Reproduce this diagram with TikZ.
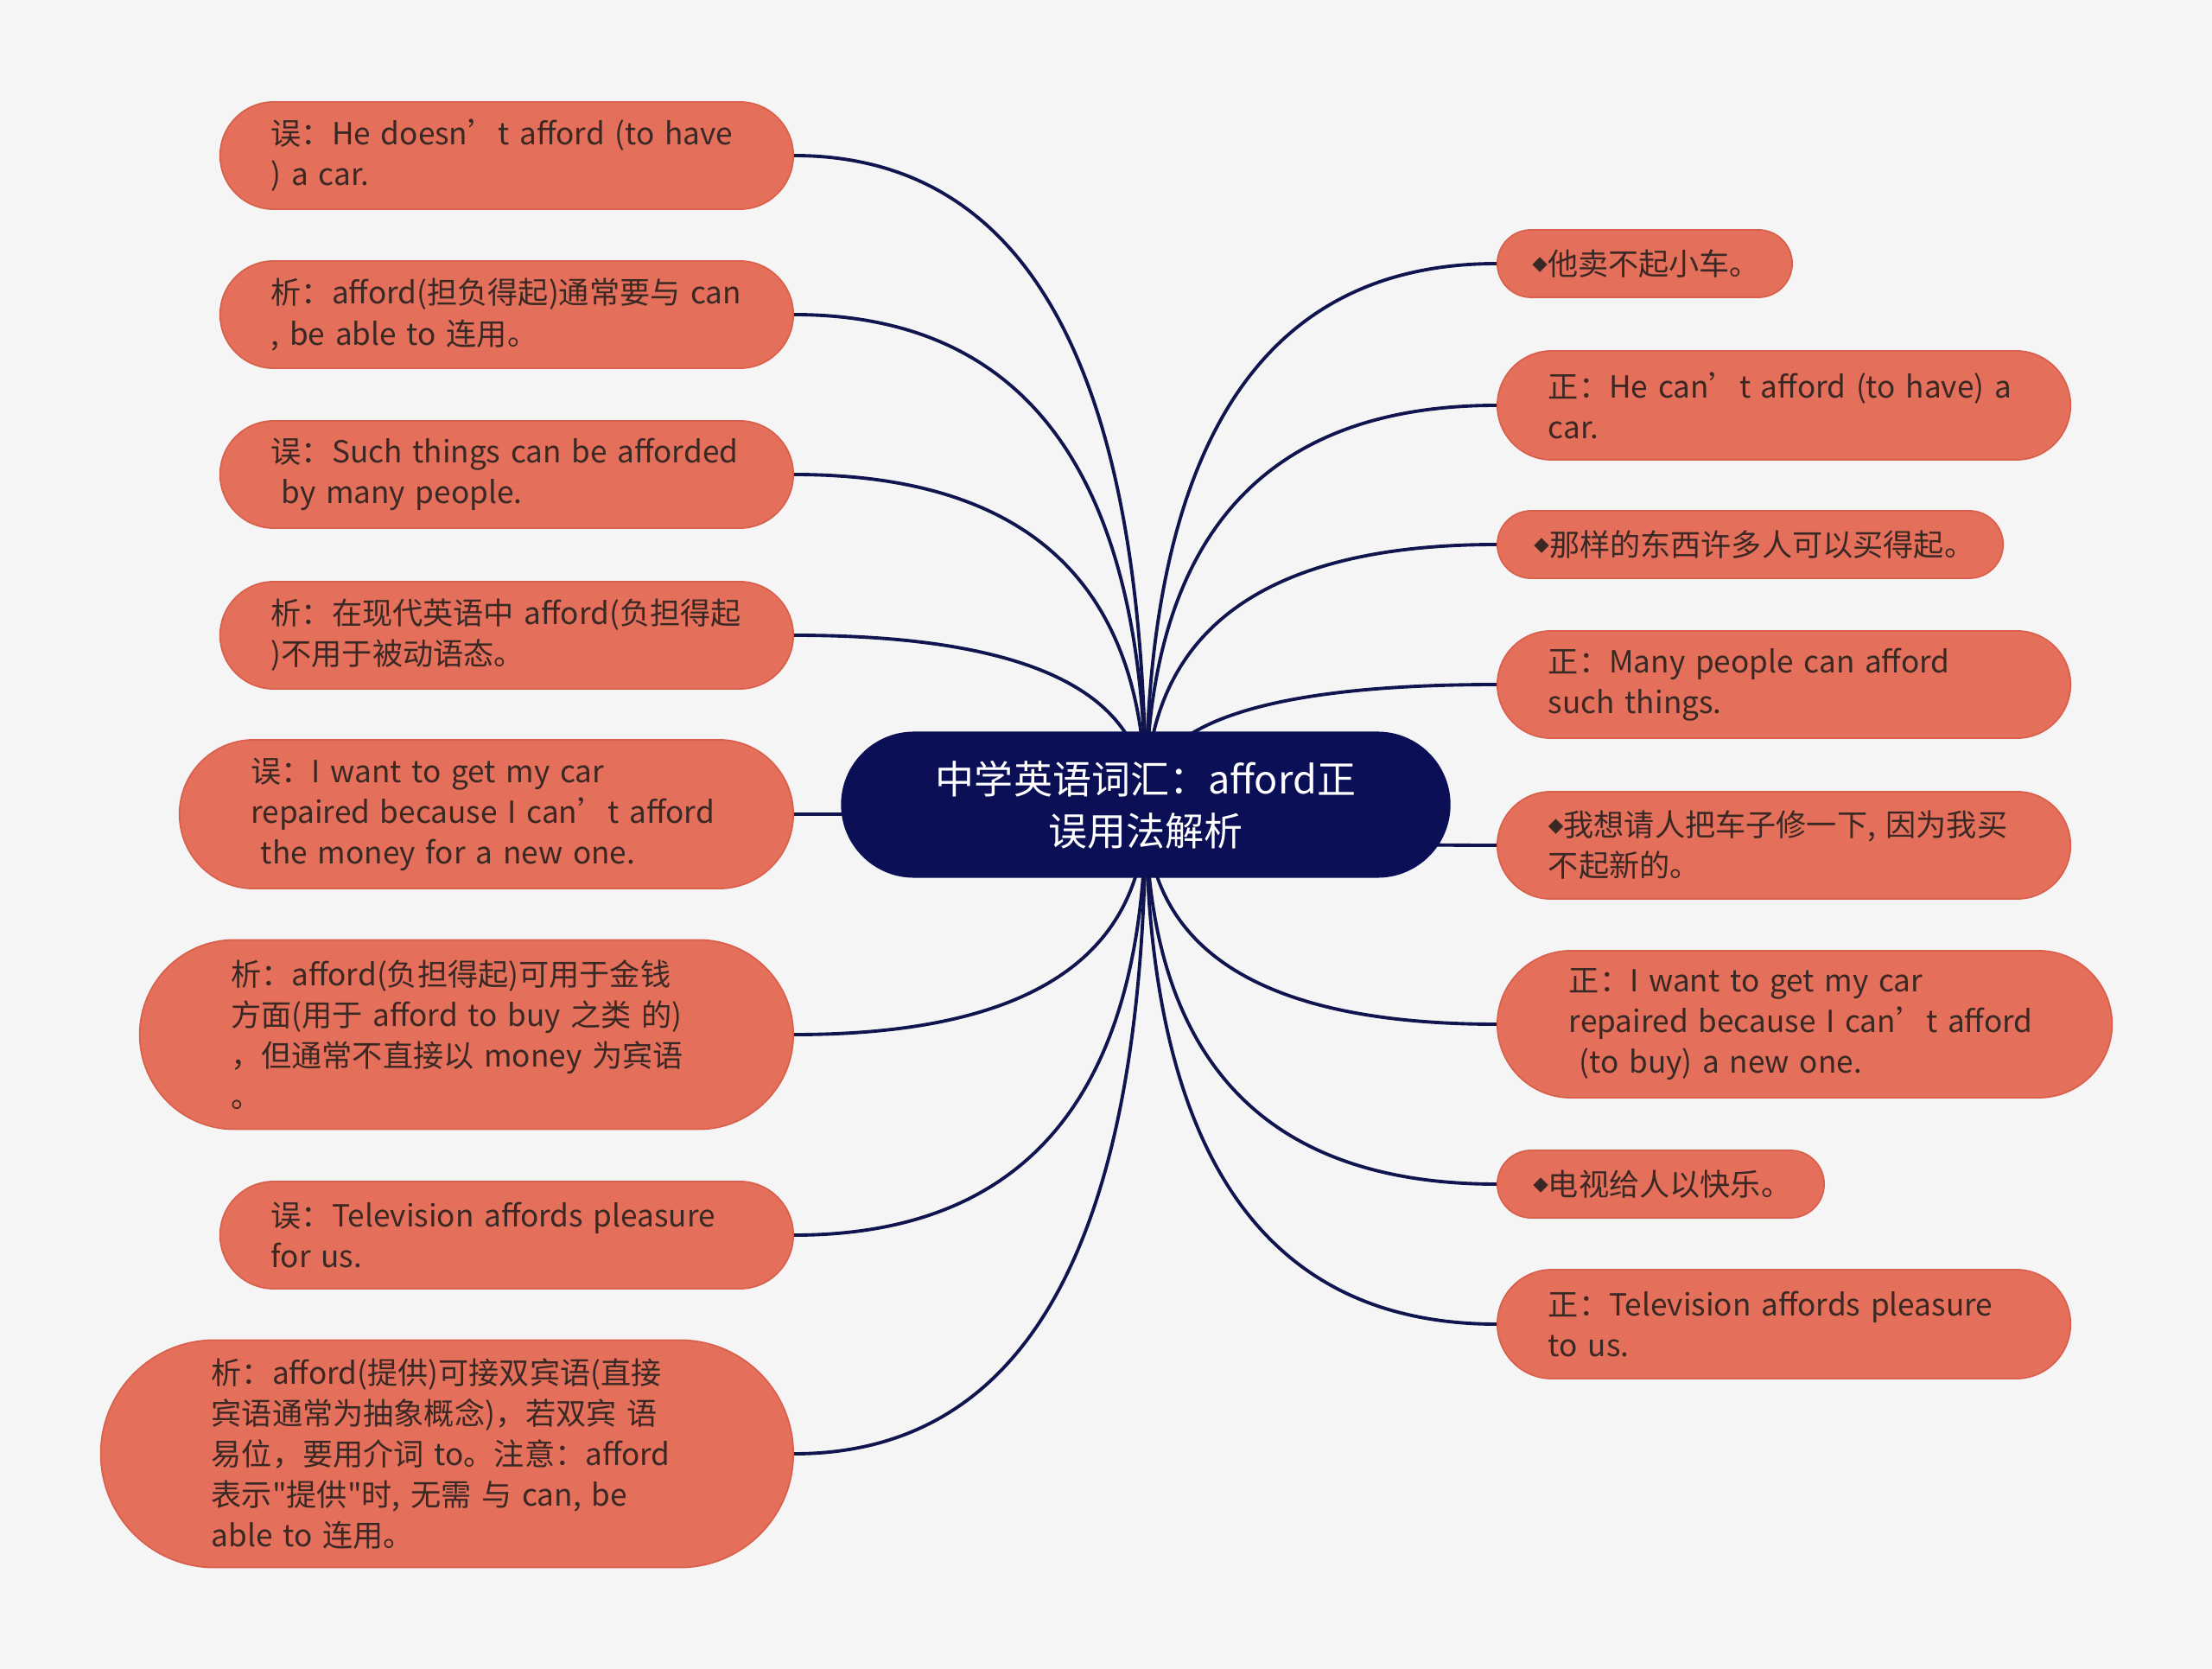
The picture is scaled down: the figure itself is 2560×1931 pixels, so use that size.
\documentclass[tikz,border=0pt]{standalone}
\usepackage{fontspec}
\newfontfamily\cjkfont{Noto Sans CJK SC}
\newfontfamily\symfont{DejaVu Sans}
\usetikzlibrary{calc,backgrounds}

\definecolor{pagebg}{HTML}{F5F5F5}
\definecolor{topicfill}{HTML}{E46F5A}
\definecolor{topicedge}{HTML}{D8604C}
\definecolor{topictext}{HTML}{3A2824}
\definecolor{rootnavy}{HTML}{0B0F55}
\definecolor{linknavy}{HTML}{10154F}

\newcommand{\bul}{\raisebox{1.6pt}{\symfont\fontsize{6.5}{6.5}\selectfont ◆}}

\begin{document}
\begin{tikzpicture}[
      x=0.01cm,
      y=-0.01cm,
      topic/.style={rectangle, draw=topicedge, fill=topicfill, line width=0.5pt,
        text=topictext, align=left, inner ysep=0pt,
        font=\cjkfont\fontsize{10}{13.4}\selectfont},
      pill/.style n args={3}{text width=#1, inner xsep=#2, minimum height=#3,
        rounded corners=#3/2},
      root/.style={rectangle, fill=rootnavy, text=white, align=center,
        inner ysep=0pt, font=\cjkfont\fontsize{12.8}{17}\selectfont},
      link/.style={draw=linknavy, line width=1.1pt}
  ]
  % canvas: 2560 x 1931 px, 1px = 0.01cm

  % --- Root ---
  \node[root, pill={5.6cm}{0.725cm}{1.69cm}] (root) at (1326,931)
    {中学英语词汇：afford正\\误用法解析};

  % --- Left branch (wrong usage + notes) ---
  \node[topic, pill={5.45cm}{0.59cm}{1.24cm}, anchor=east] (l1) at (919,180)
    {误：He doesn’t afford (to have\\) a car.};
  \node[topic, pill={5.45cm}{0.59cm}{1.24cm}, anchor=east] (l2) at (919,364)
    {析：afford(担负得起)通常要与 can\\, be able to 连用。};
  \node[topic, pill={5.45cm}{0.59cm}{1.24cm}, anchor=east] (l3) at (919,549)
    {误：Such things can be afforded\\\ by many people.};
  \node[topic, pill={5.45cm}{0.59cm}{1.24cm}, anchor=east] (l4) at (919,735)
    {析：在现代英语中 afford(负担得起\\)不用于被动语态。};
  \node[topic, pill={5.45cm}{0.825cm}{1.72cm}, anchor=east] (l5) at (919,942)
    {误：I want to get my car\\repaired because I can’t afford\\\ the money for a new one.};
  \node[topic, pill={5.45cm}{1.055cm}{2.19cm}, anchor=east] (l6) at (919,1197)
    {析：afford(负担得起)可用于金钱\\方面(用于 afford to buy 之类 的)\\，但通常不直接以 money 为宾语\\。};
  \node[topic, pill={5.45cm}{0.59cm}{1.24cm}, anchor=east] (l7) at (919,1429)
    {误：Television affords pleasure\\for us.};
  \node[topic, pill={5.45cm}{1.28cm}{2.63cm}, anchor=east] (l8) at (919,1682)
    {析：afford(提供)可接双宾语(直接\\宾语通常为抽象概念)，若双宾 语\\易位，要用介词 to。注意：afford\\表示"提供"时, 无需 与 can, be\\able to 连用。};

  % --- Right branch (translations + correct usage) ---
  \node[topic, pill={2.6cm}{0.405cm}{0.78cm}, anchor=west] (r1) at (1732,305)
    {\bul 他卖不起小车。};
  \node[topic, pill={5.45cm}{0.59cm}{1.26cm}, anchor=west] (r2) at (1732,469)
    {正：He can’t afford (to have) a\\car.};
  \node[topic, pill={5.0cm}{0.425cm}{0.78cm}, anchor=west] (r3) at (1732,630)
    {\bul 那样的东西许多人可以买得起。};
  \node[topic, pill={5.45cm}{0.59cm}{1.24cm}, anchor=west] (r4) at (1732,792)
    {正：Many people can afford\\such things.};
  \node[topic, pill={5.45cm}{0.59cm}{1.24cm}, anchor=west] (r5) at (1732,978)
    {\bul 我想请人把车子修一下, 因为我买\\不起新的。};
  \node[topic, pill={5.45cm}{0.83cm}{1.70cm}, anchor=west] (r6) at (1732,1185)
    {正：I want to get my car\\repaired because I can’t afford\\\ (to buy) a new one.};
  \node[topic, pill={2.95cm}{0.415cm}{0.78cm}, anchor=west] (r7) at (1732,1370)
    {\bul 电视给人以快乐。};
  \node[topic, pill={5.45cm}{0.59cm}{1.26cm}, anchor=west] (r8) at (1732,1532)
    {正：Television affords pleasure\\to us.};

  % --- Connectors (behind the nodes) ---
  \begin{scope}[on background layer]
    \fill[pagebg] (0,0) rectangle (2560,1931);
    \foreach \n in {l1,l2,l3,l4,l5,l6,l7,l8}
      \draw[link] (root.center) .. controls ($(root.center)!0.667!(root.center |- \n.east)$)
        and ($(\n.east)!0.667!(root.center |- \n.east)$) .. (\n.east);
    \foreach \n in {r1,r2,r3,r4,r5,r6,r7,r8}
      \draw[link] (root.center) .. controls ($(root.center)!0.667!(root.center |- \n.west)$)
        and ($(\n.west)!0.667!(root.center |- \n.west)$) .. (\n.west);
  \end{scope}
\end{tikzpicture}
\end{document}
